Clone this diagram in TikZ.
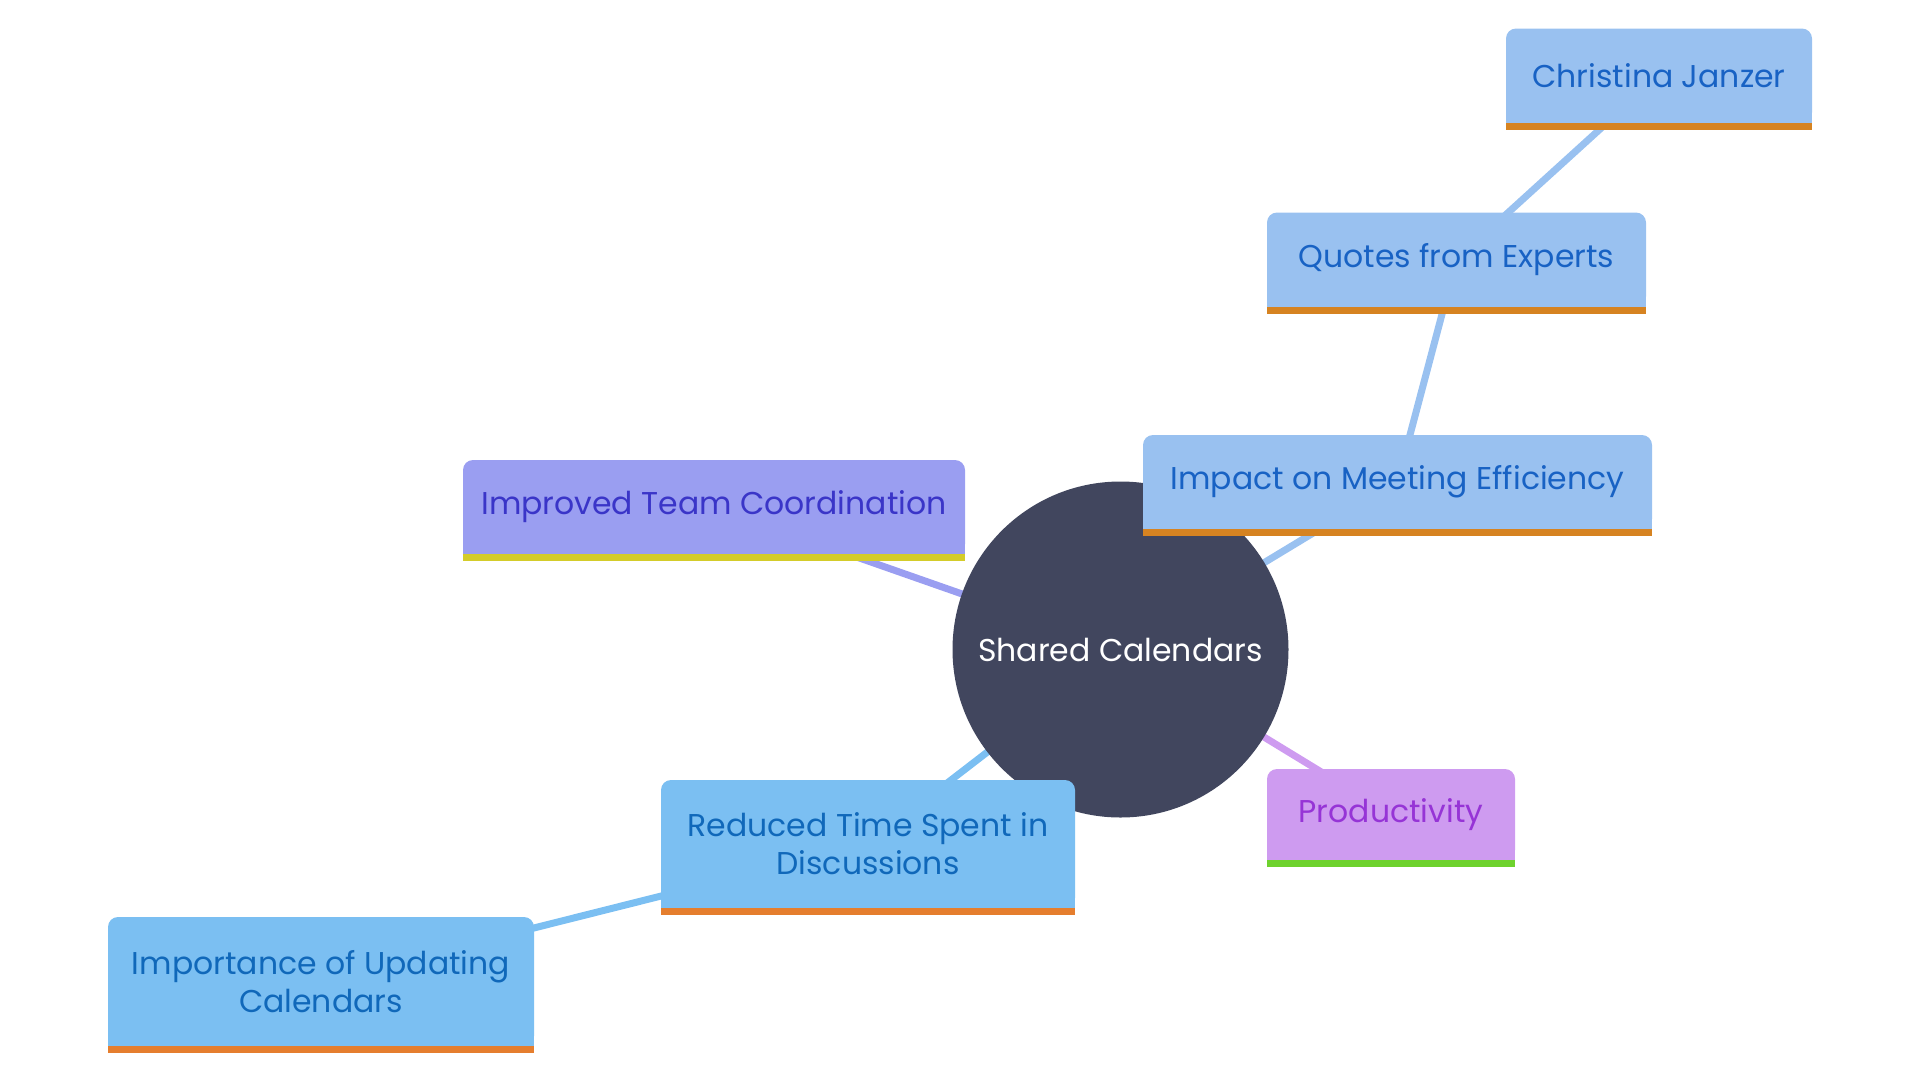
\documentclass[tikz,border=0pt]{standalone}
\usepackage{fontspec}
\setmainfont{Poppins}
\usepackage{tikz}
\usetikzlibrary{backgrounds, calc}
\definecolor{hubfill}{RGB}{65,70,94}
\definecolor{paleblue}{RGB}{153,193,240}
\definecolor{skyblue}{RGB}{123,191,242}
\definecolor{lavender}{RGB}{154,158,241}
\definecolor{lilac}{RGB}{206,155,240}
\definecolor{deepblue}{RGB}{24,98,196}
\definecolor{oceanblue}{RGB}{16,104,186}
\definecolor{indigo}{RGB}{58,53,200}
\definecolor{violet}{RGB}{150,52,214}
\definecolor{amber}{RGB}{214,131,33}
\definecolor{tangerine}{RGB}{229,126,46}
\definecolor{mustard}{RGB}{212,204,42}
\definecolor{leaf}{RGB}{110,210,46}
\tikzset{
	x=1pt, y=-1pt,
	every text node part/.style= {
		align=center
	},
	topic/.style= {
		rectangle,
		rounded corners=10pt,
		inner sep=0,
		minimum height=94pt,
		font=\fontsize{31.5}{38}\selectfont
	},
	hub/.style= {
		circle,
		fill=hubfill,
		text=white,
		inner sep=0,
		minimum size=336pt,
		font=\fontsize{31.5}{38}\selectfont
	},
	link/.style={line width=7pt},
}

\begin{document}
\begin{tikzpicture}

	\useasboundingbox (0,0) rectangle (1920,1080);

	\node (hub)[hub] at (1120.5,649.5) {Shared Calendars};

	\node (impact)[topic, fill=paleblue, text=deepblue, minimum width=509pt] at (1397.5,482) {Impact on Meeting Efficiency};
	\node (quotes)[topic, fill=paleblue, text=deepblue, minimum width=379pt] at (1456.5,259.5) {Quotes from Experts};
	\node (janzer)[topic, fill=paleblue, text=deepblue, minimum width=306pt] at (1659,75.5) {Christina Janzer};
	\node (coord)[topic, fill=lavender, text=indigo, minimum width=502pt] at (714,507) {Improved Team Coordination};
	\node (reduced)[topic, fill=skyblue, text=oceanblue, minimum width=414pt, minimum height=128pt] at (868,844) {Reduced Time Spent in\\Discussions};
	\node (updating)[topic, fill=skyblue, text=oceanblue, minimum width=426pt, minimum height=129pt] at (321,981.5) {Importance of Updating\\Calendars};
	\node (productivity)[topic, fill=lilac, text=violet, minimum width=248pt, minimum height=91pt] at (1391,814.5) {Productivity};

	% square off the lower corners and add the coloured strip
	\foreach \n/\c/\b in {impact/paleblue/amber, quotes/paleblue/amber, janzer/paleblue/amber, coord/lavender/mustard, reduced/skyblue/tangerine, updating/skyblue/tangerine, productivity/lilac/leaf}
	{
		\fill[\c] ($(\n.south west)+(0,-12)$) rectangle (\n.south east);
		\fill[\b] (\n.south west) rectangle ($(\n.south east)+(0,7)$);
	}

	\begin{scope}[on background layer]
		\foreach \a/\b/\c in {hub/impact/paleblue, impact/quotes/paleblue, quotes/janzer/paleblue, hub/coord/lavender, hub/reduced/skyblue, reduced/updating/skyblue, hub/productivity/lilac}
		{
			\draw[link, \c] (\a.center) -- (\b.center);
		}
	\end{scope}

\end{tikzpicture}
\end{document}
